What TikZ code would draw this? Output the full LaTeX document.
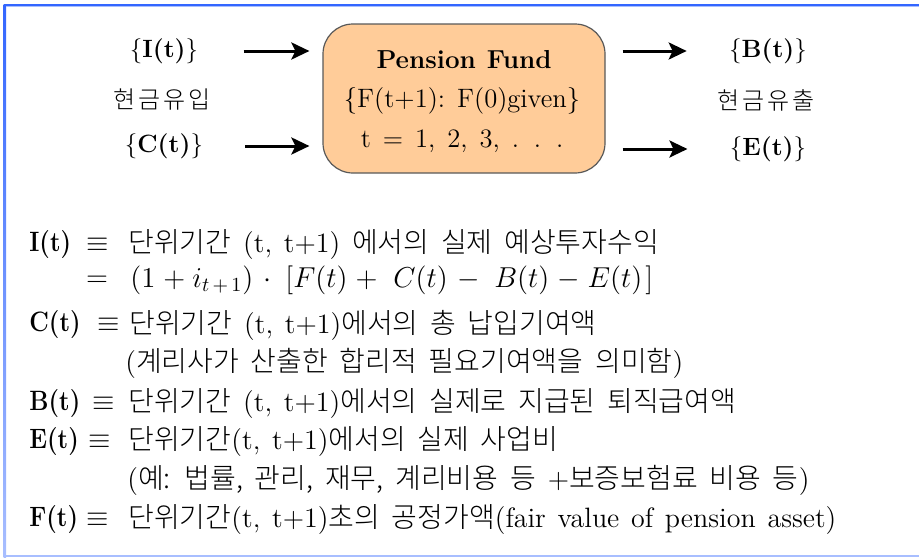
\documentclass[tikz,border=0pt]{standalone}
\usepackage{fontspec}
\newfontfamily\kr{Noto Sans CJK KR}[UprightFont={* Light}]
\usetikzlibrary{arrows.meta,calc}
\definecolor{boxfill}{HTML}{FFCC99}
\definecolor{framebl}{HTML}{3366FF}
\definecolor{framelt}{HTML}{A8BEFF}
\newcommand\widespaces[1]{\spaceskip=#1em plus 0.1em\relax}
\newcommand\narrowbold[1]{\scalebox{0.86}[1]{#1}}
\begin{document}
\begin{tikzpicture}[x=0.5pt,y=-0.5pt,
  flowarrow/.style={line width=1.5pt,-{Stealth[length=9pt,width=8.5pt,inset=2pt]}},
  toplabel/.style={inner sep=0pt,font=\fontsize{12.5}{15}\selectfont},
  topkr/.style={inner sep=0pt,font=\kr\fontsize{12}{14}\selectfont},
  fund/.style={draw=black!65,line width=0.6pt,fill=boxfill,rounded corners=15pt,
    minimum width=141pt,minimum height=74.5pt,inner sep=0pt},
  fundtext/.style={inner sep=0pt,font=\fontsize{13.3}{15}\selectfont,execute at begin node={\widespaces{0.45}}},
  fundtitle/.style={inner sep=0pt,font=\fontsize{13}{15}\selectfont\bfseries,execute at begin node={\widespaces{0.42}}},
  deflabel/.style={inner sep=0pt,anchor=west,font=\fontsize{14}{16}\selectfont\bfseries},
  defeq/.style={inner sep=0pt,font=\fontsize{13.5}{15}\selectfont},
  deftext/.style={inner sep=0pt,anchor=west,font=\fontsize{14}{16}\selectfont,execute at begin node={\widespaces{0.42}}},
  defmath/.style={inner sep=0pt,anchor=west,font=\fontsize{14}{16}\selectfont},
]
\useasboundingbox (0,0) rectangle (919,557);
% frame
\shade[top color=framebl,bottom color=framelt] (3.5,4) rectangle (6,557);
\fill[framebl] (3.5,3.5) rectangle (919,5.5);
\fill[framelt] (5.5,5.5) rectangle (919,6.5);
\fill[framelt] (3.5,554.5) rectangle (919,556.5);

% fund box
\node[fund] (fund) at (464,98.5) {};
\node[fundtitle] (ftitle) at (464,60) {Pension Fund};
\node[fundtext] (feq) at (462,101) {\{F(t+1):\ F(0)given\}};
\node[fundtext] (ft) at (462,141) {t = 1, 2, 3, . . .};

% inflow / outflow labels
\node[toplabel] (I) at (164,51) {\{\textbf{I(t)}\}};
\node[topkr] (inflow) at (162,100) {현\kern1.5pt 금\kern1.5pt 유\kern1.5pt 입};
\node[toplabel] (C) at (164,146) {\{\textbf{C(t)}\}};
\node[toplabel] (B) at (768,51) {\{\textbf{B(t)}\}};
\node[topkr] (outflow) at (766,100) {현\kern1.5pt 금\kern1.5pt 유\kern1.5pt 출};
\node[toplabel] (E) at (768,149) {\{\textbf{E(t)}\}};

% arrows
\draw[flowarrow] ($(I.east)+(45,0)$) -- ($(fund.west |- I)+(-13,0)$);
\draw[flowarrow] ($(C.east)+(42,0)$) -- ($(fund.west |- C)+(-13,0)$);
\draw[flowarrow] ($(fund.east |- B)+(17,0)$) -- ($(B.west)+(-42,0)$);
\draw[flowarrow] ($(fund.east |- E)+(17,0)$) -- ($(E.west)+(-42,0)$);

% definitions
\node[deflabel] (lI) at (29,245) {\narrowbold{I(t)}};
\node[defeq] (qI) at (98,245) {$\equiv$};
\node[deftext] (tI) at (128,245) {{\kr 단위기간} (t, t+1) {\kr 에서의 실제 예상투자수익}};
\node[defeq] (qI2) at (97,281) {$=$};
\node[defmath] (fI) at (130,280) {$(1\hspace{4pt}{+}\hspace{3.5pt}i_{t\,{+}\,1})\hspace{5pt}{\cdot}\hspace{7pt}[F(t)\hspace{4pt}{+}\hspace{8pt}C(t)\hspace{5pt}{-}\hspace{7pt}B(t)\hspace{4pt}{-}\hspace{4pt}E(t)\hspace{1.5pt}]$};

\node[deflabel] (lC) at (29,325) {\narrowbold{C(t)}};
\node[defeq] (qC) at (109,325) {$\equiv$};
\node[deftext] (tC) at (129,325) {{\kr 단위기간} (t, t+1){\kr 에서의 총 납입기여액}};
\node[deftext] (pC) at (125,363) {({\kr 계리사가 산출한 합리적 필요기여액을 의미함})};

\node[deflabel] (lB) at (29,404) {\narrowbold{B(t)}};
\node[defeq] (qB) at (104,404) {$\equiv$};
\node[deftext] (tB) at (128,404) {{\kr 단위기간} (t, t+1){\kr 에서의 실제로 지급된 퇴직급여액}};

\node[deflabel] (lE) at (29,442) {\narrowbold{E(t)}};
\node[defeq] (qE) at (100,442) {$\equiv$};
\node[deftext] (tE) at (128,442) {{\kr 단위기간}(t, t+1){\kr 에서의 실제 사업비}};
\node[deftext] (pE) at (127,480) {({\kr 예: 법률, 관리, 재무, 계리비용 등} +{\kr 보증보험료 비용 등})};

\node[deflabel] (lF) at (29,520) {\narrowbold{F(t)}};
\node[defeq] (qF) at (98,520) {$\equiv$};
\node[deftext] (tF) at (128,520) {{\kr 단위기간}(t, t+1){\kr 초의 공정가액}(fair value of pension asset)};
\end{tikzpicture}
\end{document}
